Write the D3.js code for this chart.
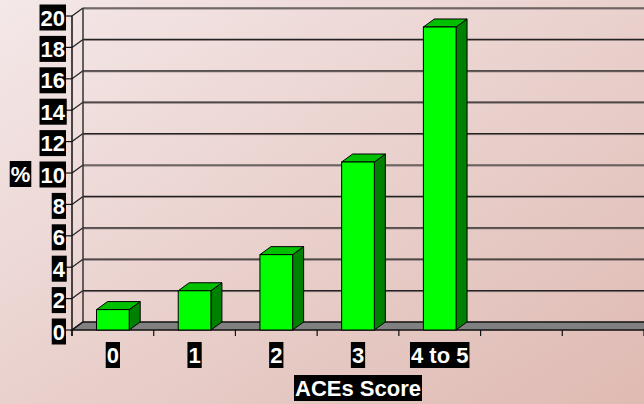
<!DOCTYPE html>
<html>
<head>
<meta charset="utf-8">
<script src="https://cdn.jsdelivr.net/npm/d3@7"></script>
<style>
  html, body { margin: 0; padding: 0; overflow: hidden; }
  svg { display: block; }
  text { font-family: "Liberation Sans", Arial, sans-serif; font-weight: bold; fill: #fff; }
</style>
</head>
<body>
<svg id="chart" width="644" height="404"></svg>
<script>
// ACEs score categories (two trailing empty slots on the axis)
const categories = ["0", "1", "2", "3", "4 to 5", "", ""];
// Percentage for each score group
const values = [1.3, 2.5, 4.8, 10.7, 19.3];
// Value axis ticks
const yTicks = [0, 2, 4, 6, 8, 10, 12, 14, 16, 18, 20];
const yTitle = "%";
const xTitle = "ACEs Score";

const W = 644, H = 404;
const svg = d3.select("#chart");

// background gradient
const defs = svg.append("defs");
const grad = defs.append("linearGradient").attr("id", "bg")
  .attr("x1", "0%").attr("y1", "0%").attr("x2", "100%").attr("y2", "100%");
grad.append("stop").attr("offset", "0%").attr("stop-color", "#f4e8e8");
grad.append("stop").attr("offset", "100%").attr("stop-color", "#dfbab2");
svg.append("rect").attr("width", W).attr("height", H).attr("fill", "url(#bg)");

// 3D depth offset
const DX = 11, DY = -8;

const x = d3.scaleBand()
  .domain(d3.range(categories.length))
  .range([72, 644])
  .paddingInner(0.6)
  .paddingOuter(0.3);
const step = x.step();
const y = d3.scaleLinear().domain([0, 20]).range([330, 16]);

const g = svg.append("g");

// back wall gridlines
yTicks.filter(v => v > 0).forEach(v => {
  g.append("line")
    .attr("x1", 72 + DX).attr("x2", W)
    .attr("y1", y(v) + DY + 1).attr("y2", y(v) + DY + 1)
    .attr("stroke", "#8a7a7a").attr("stroke-width", 1);
  g.append("line")
    .attr("x1", 72 + DX).attr("x2", W)
    .attr("y1", y(v) + DY).attr("y2", y(v) + DY)
    .attr("stroke", "#222").attr("stroke-width", 1.2);
});

// left wall diagonals
yTicks.forEach(v => {
  g.append("line")
    .attr("x1", 72).attr("y1", y(v))
    .attr("x2", 72 + DX).attr("y2", y(v) + DY)
    .attr("stroke", "#222").attr("stroke-width", 1.2);
});

// back wall left edge
g.append("line")
  .attr("x1", 72 + DX).attr("x2", 72 + DX)
  .attr("y1", y(20) + DY).attr("y2", y(0) + DY)
  .attr("stroke", "#333").attr("stroke-width", 1.5);

// floor
g.append("polygon")
  .attr("points", [[72, y(0)], [W + 2, y(0)], [W + 2, y(0) + DY], [72 + DX, y(0) + DY]].map(p => p.join(",")).join(" "))
  .attr("fill", "#808080").attr("stroke", "#111").attr("stroke-width", 1.5);

// bars
const bars = g.selectAll("g.bar").data(values).join("g").attr("class", "bar");
bars.each(function (d, i) {
  const b = d3.select(this);
  const x0 = x(i), x1 = x(i) + x.bandwidth();
  const yt = y(d), yb = y(0);
  b.append("polygon")
    .attr("points", [[x1, yb], [x1 + DX, yb + DY], [x1 + DX, yt + DY], [x1, yt]].map(p => p.join(",")).join(" "))
    .attr("fill", "#008000").attr("stroke", "#000").attr("stroke-width", 1);
  b.append("polygon")
    .attr("points", [[x0, yt], [x0 + DX, yt + DY], [x1 + DX, yt + DY], [x1, yt]].map(p => p.join(",")).join(" "))
    .attr("fill", "#00c000").attr("stroke", "#000").attr("stroke-width", 1);
  b.append("rect")
    .attr("x", x0).attr("y", yt).attr("width", x1 - x0).attr("height", yb - yt)
    .attr("fill", "#00ff00").attr("stroke", "#000").attr("stroke-width", 1);
});

// front value axis
g.append("line")
  .attr("x1", 72).attr("x2", 72)
  .attr("y1", y(20)).attr("y2", y(0) + 6)
  .attr("stroke", "#111").attr("stroke-width", 1.5);
yTicks.forEach(v => {
  g.append("line")
    .attr("x1", 66).attr("x2", 72)
    .attr("y1", y(v)).attr("y2", y(v))
    .attr("stroke", "#111").attr("stroke-width", 1.2);
});
// category ticks
d3.range(categories.length + 1).forEach(k => {
  g.append("line")
    .attr("x1", 72 + k * step).attr("x2", 72 + k * step)
    .attr("y1", y(0)).attr("y2", y(0) + 6)
    .attr("stroke", "#111").attr("stroke-width", 1.2);
});

// white labels on black boxes
function boxedText(tx, ty, str, anchor) {
  const grp = g.append("g");
  const rect = grp.append("rect").attr("fill", "#000");
  const t = grp.append("text")
    .attr("x", tx).attr("y", ty)
    .attr("text-anchor", anchor)
    .attr("font-size", 22)
    .text(str);
  const bb = t.node().getBBox();
  rect.attr("x", bb.x - 1).attr("width", bb.width + 2)
    .attr("y", ty - 21).attr("height", 26);
}

yTicks.forEach(v => boxedText(65, y(v) + 9.5, String(v), "end"));
categories.forEach((c, i) => {
  if (c) boxedText(x(i) + x.bandwidth() / 2, 363, c, "middle");
});
boxedText((72 + W) / 2, 396, xTitle, "middle");
boxedText(20.5, 182, yTitle, "middle");
</script>
</body>
</html>
